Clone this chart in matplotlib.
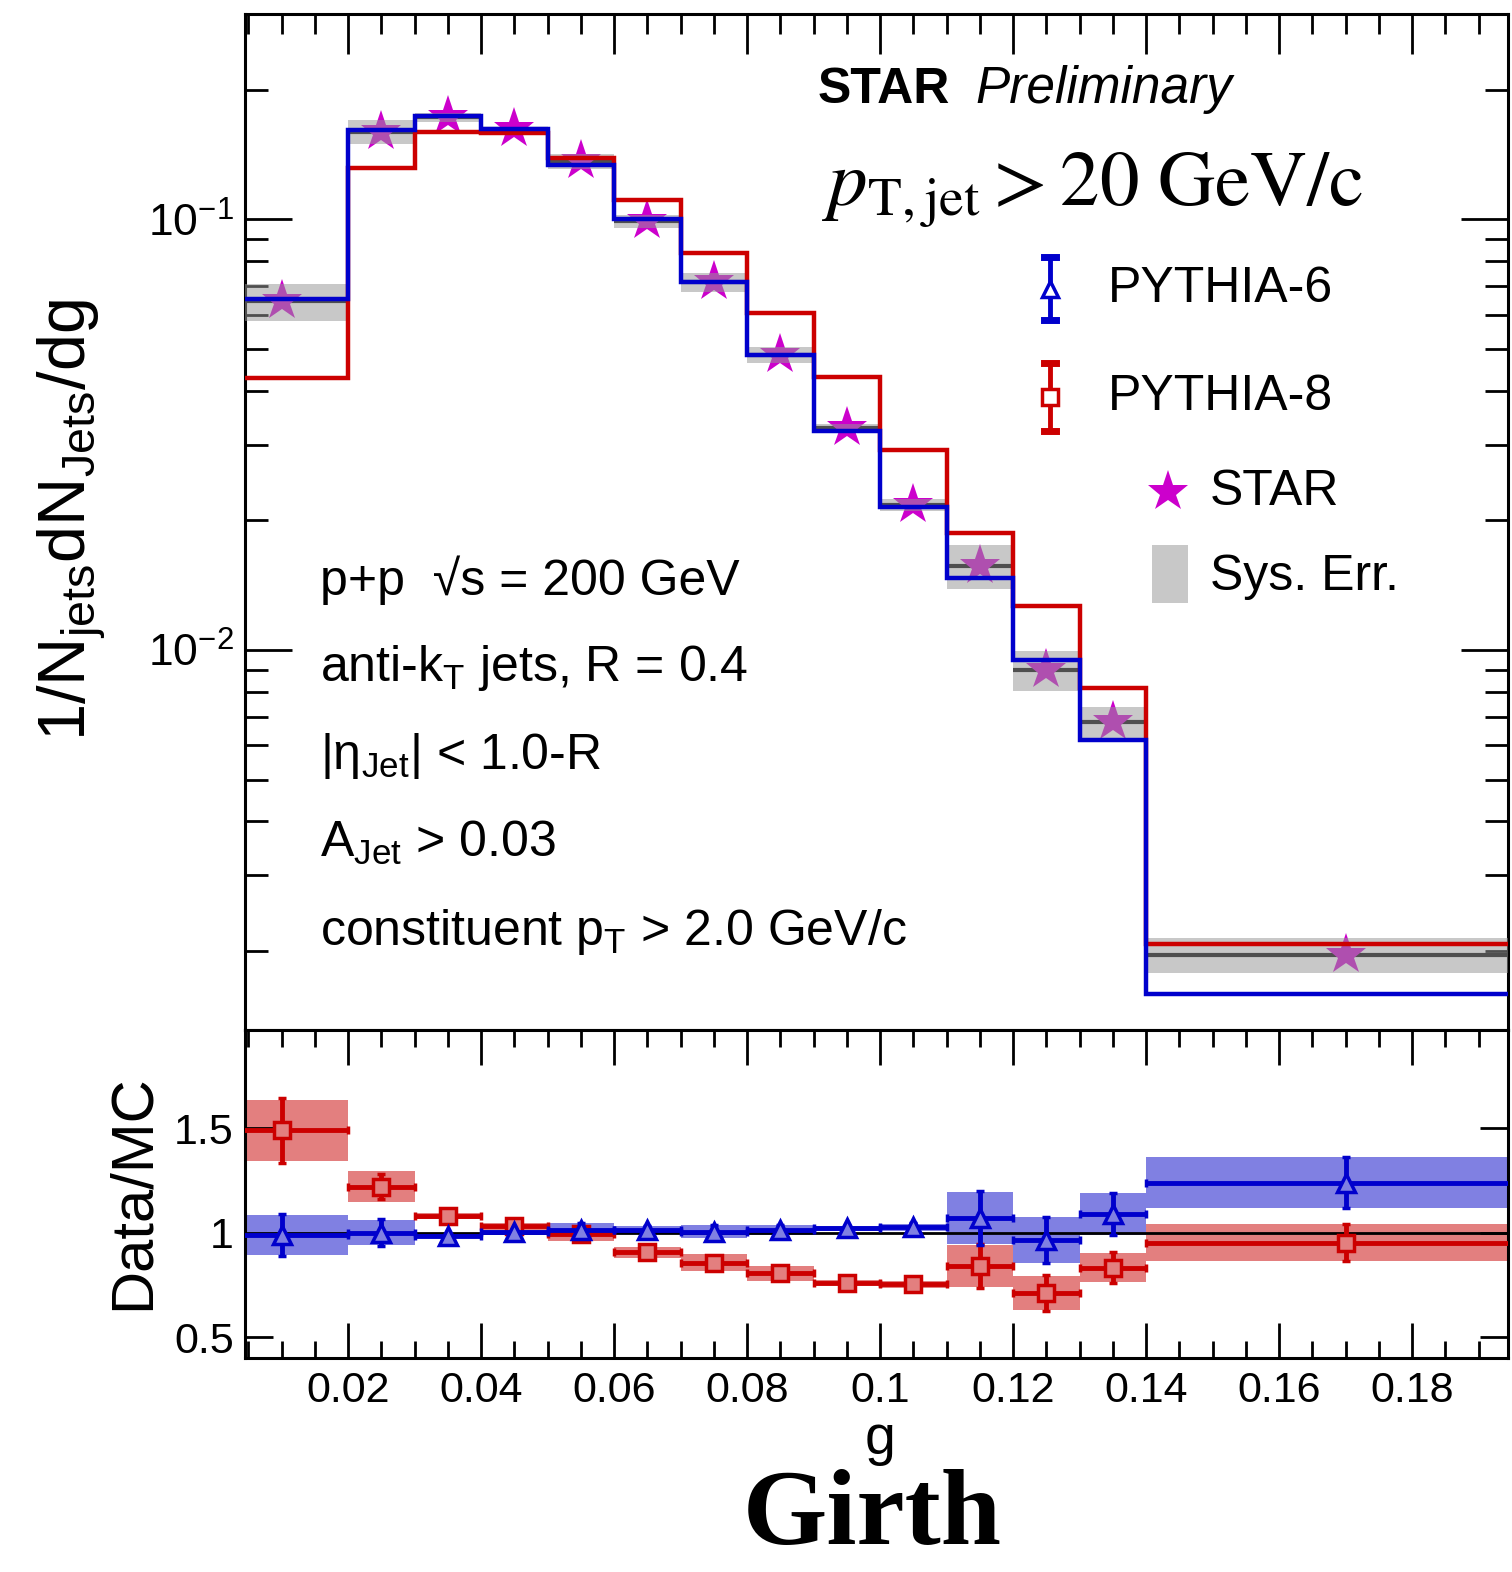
import numpy as np
import matplotlib.pyplot as plt
from matplotlib.lines import Line2D
from matplotlib.patches import Rectangle
from matplotlib.ticker import MultipleLocator, LogLocator, FuncFormatter, NullFormatter

plt.rcParams['font.family'] = ['Liberation Sans', 'DejaVu Sans']
plt.rcParams['mathtext.fontset'] = 'custom'
plt.rcParams['mathtext.rm'] = 'Liberation Sans'
plt.rcParams['mathtext.it'] = 'Liberation Sans:italic'
plt.rcParams['mathtext.bf'] = 'Liberation Sans:bold'

# girth bins
edges = np.array([0.0, 0.02, 0.03, 0.04, 0.05, 0.06, 0.07, 0.08, 0.09,
                  0.10, 0.11, 0.12, 0.13, 0.14, 0.20])

# 1/N dN/dg
star = np.array([0.0645, 0.160, 0.1725, 0.162, 0.1364, 0.0989, 0.0714, 0.0485,
                 0.0328, 0.0217, 0.0157, 0.0090, 0.0068, 0.00196])
star_sys = np.array([0.10, 0.064, 0.022, 0.011, 0.041, 0.033, 0.049, 0.044,
                     0.022, 0.033, 0.119, 0.107, 0.084, 0.095])  # relative
pythia6 = np.array([0.0652, 0.161, 0.174, 0.162, 0.134, 0.100, 0.0714, 0.0485,
                    0.0323, 0.0215, 0.0147, 0.0095, 0.00618, 0.00159])
pythia8 = np.array([0.0429, 0.1315, 0.160, 0.159, 0.139, 0.1107, 0.0834, 0.0605,
                    0.0431, 0.0292, 0.0187, 0.01264, 0.00817, 0.00208])

# Data/MC
ratio6 = np.array([0.99, 1.0, 0.985, 1.005, 1.015, 1.012, 1.005, 1.012,
                   1.02, 1.025, 1.07, 0.965, 1.09, 1.24])
ratio6_stat = np.array([0.10, 0.065, 0.01, 0.01, 0.03, 0.02, 0.03, 0.025,
                        0.01, 0.02, 0.13, 0.11, 0.10, 0.12])
ratio6_sys = np.array([0.095, 0.06, 0.01, 0.01, 0.03, 0.02, 0.03, 0.025,
                       0.01, 0.015, 0.125, 0.11, 0.10, 0.12])
ratio8 = np.array([1.49, 1.22, 1.08, 1.03, 0.995, 0.905, 0.856, 0.805,
                   0.76, 0.752, 0.842, 0.712, 0.832, 0.952])
ratio8_stat = np.array([0.155, 0.06, 0.01, 0.01, 0.025, 0.01, 0.03, 0.02,
                        0.01, 0.015, 0.105, 0.085, 0.075, 0.09])
ratio8_sys = np.array([0.145, 0.075, 0.015, 0.015, 0.035, 0.025, 0.04, 0.035,
                       0.012, 0.015, 0.10, 0.08, 0.07, 0.09])

centers = 0.5 * (edges[:-1] + edges[1:])
widths = np.diff(edges)

BLUE = '#0000cc'
RED = '#cc0000'
MAG = '#cc00cc'

W, H = 1512, 1572
fig = plt.figure(figsize=(W / 100, H / 100), dpi=100)


def fx(px):
    return px / W


def fy(py):
    return 1 - py / H


ax = fig.add_axes([fx(245), fy(1030), fx(1508) - fx(245), fy(14) - fy(1030)])
ax2 = fig.add_axes([fx(245), fy(1358), fx(1508) - fx(245), fy(1030) - fy(1358)])

# ---- top panel
ax.errorbar(centers, star, xerr=widths / 2, fmt='none', ecolor='black',
            elinewidth=3, zorder=1)
ax.plot(centers, star, ls='none', marker='*', ms=31, color=MAG, mew=0, zorder=2)
ax.bar(centers, 2 * star * star_sys, bottom=star * (1 - star_sys), width=widths,
       color='#979797', alpha=0.53, lw=0, zorder=3)
ax.stairs(pythia8, edges, baseline=None, color=RED, lw=3.2, zorder=4)
ax.stairs(pythia6, edges, baseline=None, color=BLUE, lw=3.2, zorder=5)

ax.set_yscale('log')
ax.set_xlim(0.0045, 0.1944)
ax.set_ylim(0.00131, 0.30)
ax.yaxis.set_major_locator(LogLocator(base=10))
ax.yaxis.set_minor_locator(LogLocator(base=10, subs=np.arange(2, 10)))
ax.yaxis.set_minor_formatter(NullFormatter())
ax.xaxis.set_major_locator(MultipleLocator(0.02))
ax.xaxis.set_minor_locator(MultipleLocator(0.005))
ax.tick_params(axis='x', which='both', direction='in', top=True, bottom=False,
               labelbottom=False, width=2)
ax.tick_params(axis='x', which='major', length=29)
ax.tick_params(axis='x', which='minor', length=14.5)
ax.tick_params(axis='y', which='both', direction='in', left=True, right=True,
               width=2, labelsize=32, pad=8)
ax.tick_params(axis='y', which='major', length=34)
ax.tick_params(axis='y', which='minor', length=16.5)
for s in ax.spines.values():
    s.set_linewidth(2.2)

# ---- ratio panel
ax2.bar(centers, 2 * ratio8_sys, bottom=ratio8 - ratio8_sys, width=widths,
        color='#e37f7f', lw=0, zorder=1)
ax2.bar(centers, 2 * ratio6_sys, bottom=ratio6 - ratio6_sys, width=widths,
        color='#8080e2', lw=0, zorder=2)
ax2.axhline(1, color='black', lw=2, zorder=3)
ax2.errorbar(centers, ratio8, xerr=widths / 2, yerr=ratio8_stat, fmt='s',
             color=RED, mfc='#e37f7f', mec=RED, ms=12, mew=2.5, elinewidth=3.5,
             capsize=3, capthick=5, zorder=4)
ax2.errorbar(centers, ratio6, xerr=widths / 2, yerr=ratio6_stat, fmt='^',
             color=BLUE, mfc='#8080e2', mec=BLUE, ms=13, mew=2.5, elinewidth=3.5,
             capsize=3, capthick=5, zorder=5)

ax2.set_xlim(0.0045, 0.1944)
ax2.set_ylim(0.40, 1.97)
ax2.xaxis.set_major_locator(MultipleLocator(0.02))
ax2.xaxis.set_minor_locator(MultipleLocator(0.005))
ax2.xaxis.set_major_formatter(FuncFormatter(lambda v, p: '%g' % round(v, 3)))
ax2.yaxis.set_major_locator(MultipleLocator(0.5))
ax2.yaxis.set_major_formatter(FuncFormatter(lambda v, p: '%g' % v))
ax2.tick_params(axis='x', which='both', direction='in', top=True, bottom=True,
                width=2, labelsize=31, pad=9)
ax2.tick_params(axis='x', which='major', length=25)
ax2.tick_params(axis='x', which='minor', length=12)
ax2.tick_params(axis='y', which='both', direction='in', left=True, right=True,
                width=2, labelsize=31, length=20, pad=8)
for s in ax2.spines.values():
    s.set_linewidth(2.2)

# ---- labels
fig.text(fx(72), fy(520), r'1/N$_{\mathrm{jets}}$dN$_{\mathrm{Jets}}$/dg',
         rotation=90, ha='center', va='center', fontsize=48)
fig.text(fx(133), fy(1192), 'Data/MC', rotation=90, ha='center', va='center',
         fontsize=43)
fig.text(fx(880), fy(1440), 'g', ha='center', va='center', fontsize=40)
fig.text(fx(872), fy(1544), 'Girth', ha='center', va='baseline', fontsize=78,
         family='Liberation Serif', weight='bold')

fig.text(fx(818), fy(103), 'STAR', ha='left', va='baseline', fontsize=36,
         weight='bold')
fig.text(fx(975), fy(103), 'Preliminary', ha='left', va='baseline', fontsize=37,
         style='italic')
fig.text(fx(822), fy(205), r'$p_{\mathrm{T,jet}} > 20\ \mathrm{GeV/c}$',
         ha='left', va='baseline', fontsize=57, math_fontfamily='stix')

info = ['p+p  √s = 200 GeV',
        r'anti-k$_{\mathrm{T}}$ jets, R = 0.4',
        r'|$\mathrm{\eta}_{\mathrm{Jet}}$| < 1.0-R',
        r'A$_{\mathrm{Jet}}$ > 0.03',
        r'constituent p$_{\mathrm{T}}$ > 2.0 GeV/c']
for txt, base in zip(info, [595, 681, 769, 857, 945]):
    fig.text(fx(320), fy(base), txt, ha='left', va='baseline', fontsize=36)

# ---- legend
for xc, y0, y1, ym, mk, col in [(1050, 257, 320, 289, '^', BLUE),
                                (1050, 363, 431, 397, 's', RED)]:
    fig.add_artist(Line2D([fx(xc), fx(xc)], [fy(y0), fy(y1)], color=col, lw=3.5))
    for yy in (y0, y1):
        fig.add_artist(Line2D([fx(xc - 6), fx(xc + 6)], [fy(yy), fy(yy)],
                              color=col, lw=5))
    fig.add_artist(Line2D([fx(xc)], [fy(ym)], marker=mk, ms=12, mfc='white',
                          mec=col, mew=2.5, ls='none'))
fig.add_artist(Line2D([fx(1168)], [fy(492)], marker='*', ms=31, color=MAG,
                      mew=0, ls='none'))
fig.add_artist(Rectangle((fx(1152), fy(603)), fx(1188) - fx(1152),
                         fy(545) - fy(603), color='#c8c8c8', lw=0))
fig.text(fx(1108), fy(289), 'PYTHIA-6', ha='left', va='center', fontsize=36)
fig.text(fx(1108), fy(397), 'PYTHIA-8', ha='left', va='center', fontsize=36)
fig.text(fx(1210), fy(492), 'STAR', ha='left', va='center', fontsize=36)
fig.text(fx(1210), fy(577), 'Sys. Err.', ha='left', va='center', fontsize=36)

fig.savefig('out.png', dpi=100)
